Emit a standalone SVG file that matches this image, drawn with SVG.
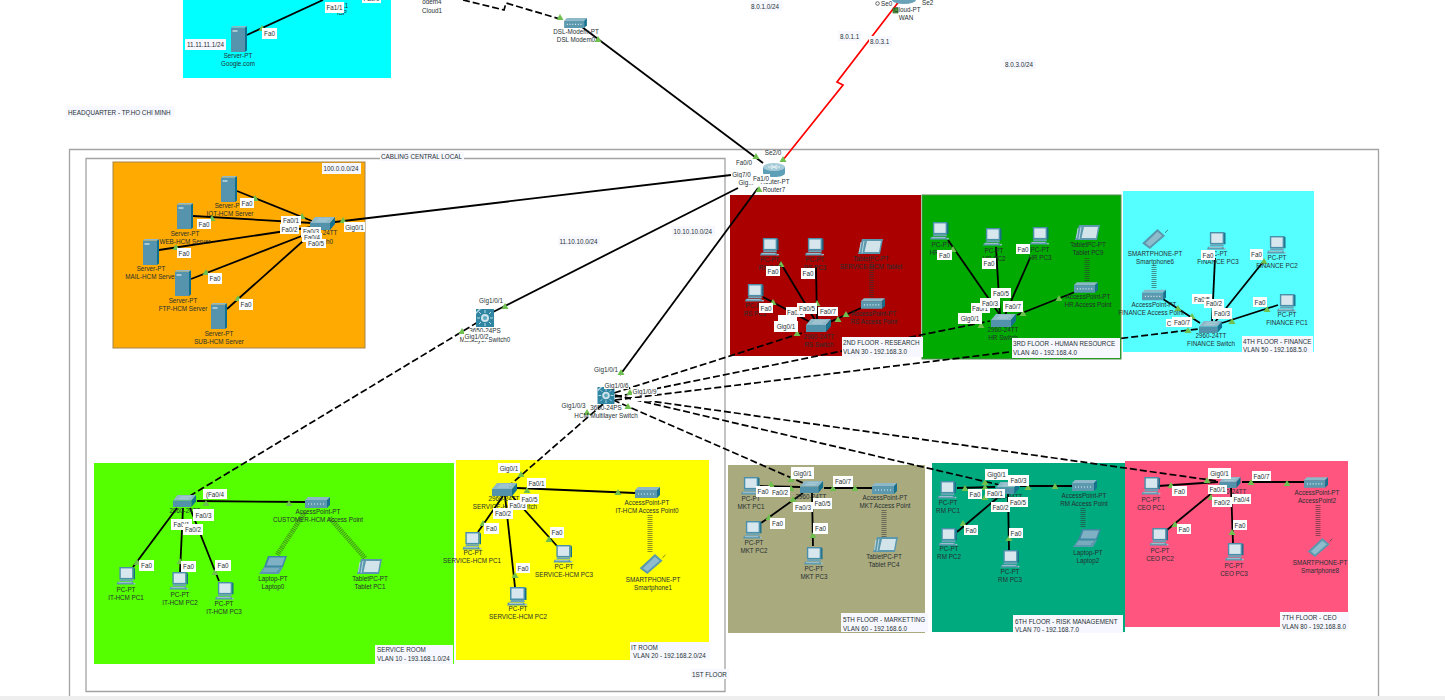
<svg xmlns="http://www.w3.org/2000/svg" width="1445" height="700" viewBox="0 0 1445 700">
<style>
text{font-family:"Liberation Sans",Arial,sans-serif;font-size:6.3px;fill:#263032}
.m{text-anchor:middle}
.p rect{fill:#fff}
.n rect{fill:#f7f8ff}
.p text{text-anchor:middle}
.c{fill:none;stroke:#000;stroke-width:1.8}
.d{fill:none;stroke:#000;stroke-width:1.7;stroke-dasharray:7 3}
.r{fill:none;stroke:#f00;stroke-width:1.7}
.w{fill:none;stroke:#333;stroke-width:5;stroke-dasharray:1 1;opacity:.55}
.b{fill:none;stroke:#a3a3a3;stroke-width:1.3}
.t{fill:#6fc04e}
</style>
<defs>
<symbol id="server" viewBox="0 0 16 26"><path d="M0 1.500H14V26H0Z" fill="#5594ac"/><path d="M14 1.500L16 0V24.500L14 26Z" fill="#0f6f8e"/><path d="M0 1.500L2 0H16L14 1.500Z" fill="#93bac8"/><rect x="1.500" y="4" width="5" height="2" fill="#a9c8d4"/></symbol>
<symbol id="pc" viewBox="0 0 20 19"><rect x="3" y="0" width="15" height="13" fill="#4a90aa"/><path d="M18 0L19.500 1.500V13H18Z" fill="#1a6f8d"/><rect x="4.500" y="1.500" width="12" height="10" fill="#d8e7ed"/><path d="M4 13H17L18 15H3Z" fill="#6ba4b8"/><path d="M1 15.500H17L19 18.500H0Z" fill="#5b98ae"/><path d="M2 16.500H16" stroke="#d8e7ed" stroke-width=".6"/><circle cx="19" cy="17.500" r="1" fill="#9cc0cd"/></symbol>
<symbol id="switch" viewBox="0 0 25 13"><path d="M5 0H25L20 6H0Z" fill="#8cb8c7"/><path d="M0 6H20V13H0Z" fill="#5292ab"/><path d="M20 6L25 0V7L20 13Z" fill="#17708e"/><path d="M8 2H20M6 4H17" stroke="#c9dee5" stroke-width=".6"/></symbol>
<symbol id="ap" viewBox="0 0 25 11"><path d="M3 0H25L22 3H0Z" fill="#8cb8c7"/><path d="M0 3H22V11H0Z" fill="#5c99af"/><path d="M22 3L25 0V8L22 11Z" fill="#17708e"/><path d="M3 7H20" stroke="#e6f0f4" stroke-width="1.200" stroke-dasharray="1 2"/></symbol>
<symbol id="router" viewBox="0 0 22 14"><path d="M0 4V10C0 12.500 5 14 11 14S22 12.500 22 10V4Z" fill="#5d9fb7"/><ellipse cx="11" cy="4" rx="11" ry="4" fill="#a6ccd9"/><path d="M5 4H10M12 4H17M8 2L14 6M14 2L8 6" stroke="#fff" stroke-width=".7"/></symbol>
<symbol id="l3" viewBox="0 0 18 18"><rect width="18" height="18" fill="#2f86a3"/><path d="M0 3L3 0H5L0 5Z" fill="#bcd8e2"/><circle cx="9" cy="9" r="4" fill="#cfe5ec"/><circle cx="9" cy="9" r="2" fill="#5da7c0"/><path d="M9 1V4M9 14V17M1 9H4M14 9H17M3 3L5 5M15 3L13 5M3 15L5 13M15 15L13 13" stroke="#e6f2f6" stroke-width=".8"/></symbol>
<symbol id="laptop" viewBox="0 0 28 18"><path d="M9 0H28L24 11H5Z" fill="#3d88a3"/><path d="M10.500 1.500H26L23 9.500H7.500Z" fill="#7fb0c3"/><path d="M5 11H24L20 18H0Z" fill="#5b98ae"/><path d="M5 13H20M3.500 15H18" stroke="#bcd6df" stroke-width=".6"/></symbol>
<symbol id="tablet" viewBox="0 0 25 15"><path d="M4 0H25L22 15H0Z" fill="#5b98ae"/><path d="M9 2H23L21 13H6.500Z" fill="#d2e4ea"/><path d="M3 3L1.500 13M6 2L4 14" stroke="#d2e4ea" stroke-width=".8"/></symbol>
<symbol id="phone" viewBox="0 0 28 22"><path d="M0 16L16 1L24 8L8 22Z" fill="#5b98ae"/><path d="M3.500 16L16 4L21 8L8 19.500Z" fill="#8ebccc"/><path d="M24 5L27 2" stroke="#2f3a3c" stroke-width=".7"/></symbol>
<path id="tri" class="t" d="M-3.500 3H3.500L0 -3Z"/>
</defs>

<rect width="1445" height="700" fill="#fff"/>
<rect x="0" y="696" width="1445" height="4" fill="#eeeeee"/>

<g id="zones">
<rect x="183" y="-2" width="208" height="80" fill="#00ffff"/>
<rect x="113" y="162" width="252" height="186" fill="#ffaa00" stroke="#a5844a"/>
<rect x="730" y="195" width="191" height="161" fill="#aa0000"/>
<rect x="922" y="195" width="199" height="164" fill="#00aa00" stroke="#4f8a4f"/>
<rect x="1123" y="191" width="191" height="161" fill="#55ffff"/>
<rect x="94" y="463" width="360" height="201" fill="#55ff00"/>
<rect x="456" y="460" width="253" height="200" fill="#ffff00"/>
<rect x="728" y="465" width="197" height="168" fill="#aaaa7f"/>
<rect x="932" y="463" width="193" height="169" fill="#00aa7f"/>
<rect x="1125" y="461" width="223" height="166" fill="#ff557f"/>
<path class="b" d="M69.500 696V149.500H1378.500V696"/>
<path class="b" d="M86 691.500V158.500H725V691.500Z"/>
</g>

<g id="connectors">
<path class="d" d="M463 0L504 10L506 3L560 19"/>
<path class="c" d="M582 27L763 163"/>
<path class="r" d="M783 160L843 85L837 82L900 0"/>
<path class="c" d="M335 222L731 175"/>
<path class="c" d="M493 312L738 188"/>
<path class="c" d="M620 375L758 188"/>
<path class="d" d="M478 322L188 497"/>
<path class="d" d="M603 404L510 485"/>
<path class="d" d="M614 393L805 332"/>
<path class="d" d="M615 397L990 321"/>
<path class="d" d="M615 400L1198 329"/>
<path class="d" d="M613 400L803 483"/>
<path class="d" d="M615 395L1000 485"/>
<path class="d" d="M615 396L1217 481"/>
<path class="c" d="M247 35L323 0"/>
<path class="c" d="M237 191L312 221"/>
<path class="c" d="M193 216L312 223"/>
<path class="c" d="M159 250L312 227"/>
<path class="c" d="M191 279L312 232"/>
<path class="c" d="M227 309L312 233"/>
<path class="c" d="M780 262L815 320"/>
<path class="c" d="M816 267L817 320"/>
<path class="c" d="M763 297L810 322"/>
<path class="c" d="M861 308L830 322"/>
<path class="w" d="M871.500 262V298"/>
<path class="c" d="M948 240L1000 315"/>
<path class="c" d="M996 247L1000 315"/>
<path class="c" d="M1030 258L1005 315"/>
<path class="c" d="M1075 292L1017 315"/>
<path class="w" d="M1087 258V282"/>
<path class="c" d="M1163 299L1200 323"/>
<path class="c" d="M1215 258L1212 322"/>
<path class="c" d="M1263 262L1215 322"/>
<path class="c" d="M1278 305L1222 323"/>
<path class="w" d="M1154 265V289"/>
<path class="c" d="M133 567L177 508"/>
<path class="c" d="M180 572L183 508"/>
<path class="c" d="M219 581L190 508"/>
<path class="c" d="M197 501L305 502"/>
<path class="w" d="M305 512L277 555"/>
<path class="w" d="M330 518L365 558"/>
<path class="c" d="M478 532L503 496"/>
<path class="c" d="M515 587L505 496"/>
<path class="c" d="M557 546L512 496"/>
<path class="c" d="M517 488L635 493"/>
<path class="w" d="M650 515V553"/>
<path class="c" d="M760 486L800 487"/>
<path class="c" d="M761 523L803 493"/>
<path class="c" d="M813 546L812 493"/>
<path class="c" d="M824 488H872"/>
<path class="w" d="M884 510V537"/>
<path class="c" d="M957 488L995 487"/>
<path class="c" d="M957 532L1002 494"/>
<path class="c" d="M1009 550L1008 494"/>
<path class="c" d="M1020 486H1072"/>
<path class="w" d="M1083 508V528"/>
<path class="c" d="M1158 486L1218 482"/>
<path class="c" d="M1167 530L1218 488"/>
<path class="c" d="M1233 543L1231 488"/>
<path class="c" d="M1242 482L1304 482"/>
<path class="w" d="M1318 505V537"/>
</g>

<g id="link-lights">
<use href="#tri" x="262" y="28"/><use href="#tri" x="560" y="17"/><use href="#tri" x="598" y="39"/><use href="#tri" x="756" y="156"/><use href="#tri" x="783" y="159"/><rect x="893" y="8" width="5" height="5" fill="#4c9a3a" stroke="#1d5c1d" stroke-width=".6"/>
<use href="#tri" x="255" y="198"/><use href="#tri" x="302" y="216"/><use href="#tri" x="212" y="218"/><use href="#tri" x="176" y="247"/><use href="#tri" x="206" y="272"/><use href="#tri" x="238" y="298"/><use href="#tri" x="343" y="220"/>
<use href="#tri" x="505" y="306"/><use href="#tri" x="462" y="331"/><use href="#tri" x="621" y="372"/><use href="#tri" x="759" y="189"/><use href="#tri" x="587" y="412"/><use href="#tri" x="628" y="406"/><use href="#tri" x="630" y="392"/>
<use href="#tri" x="781" y="264"/><use href="#tri" x="817" y="303"/><use href="#tri" x="773" y="302"/><use href="#tri" x="846" y="314"/><use href="#tri" x="838" y="319"/><use href="#tri" x="797" y="333"/>
<use href="#tri" x="953" y="249"/><use href="#tri" x="1059" y="298"/><use href="#tri" x="1023" y="313"/><use href="#tri" x="981" y="325"/>
<use href="#tri" x="1178" y="308"/><use href="#tri" x="1192" y="316"/><use href="#tri" x="1267" y="309"/><use href="#tri" x="1232" y="321"/><use href="#tri" x="1188" y="330"/><use href="#tri" x="1264" y="261"/>
<use href="#tri" x="206" y="503"/><use href="#tri" x="289" y="503"/><use href="#tri" x="137" y="562"/><use href="#tri" x="180" y="561"/><use href="#tri" x="215" y="572"/>
<use href="#tri" x="527" y="490"/><use href="#tri" x="618" y="492"/><use href="#tri" x="483" y="523"/><use href="#tri" x="515" y="575"/><use href="#tri" x="549" y="539"/><use href="#tri" x="521" y="474"/>
<use href="#tri" x="771" y="484"/><use href="#tri" x="791" y="488"/><use href="#tri" x="833" y="488"/><use href="#tri" x="855" y="488"/><use href="#tri" x="793" y="499"/><use href="#tri" x="769" y="517"/><use href="#tri" x="813" y="535"/><use href="#tri" x="791" y="479"/>
<use href="#tri" x="965" y="488"/><use href="#tri" x="985" y="487"/><use href="#tri" x="985" y="482"/><use href="#tri" x="1028" y="487"/><use href="#tri" x="1055" y="486"/><use href="#tri" x="963" y="523"/><use href="#tri" x="985" y="497"/><use href="#tri" x="1009" y="538"/>
<use href="#tri" x="1171" y="485"/><use href="#tri" x="1207" y="480"/><use href="#tri" x="1211" y="497"/><use href="#tri" x="1175" y="524"/><use href="#tri" x="1232" y="532"/><use href="#tri" x="1251" y="482"/><use href="#tri" x="1287" y="483"/>
</g>

<g id="google"><use href="#server" x="231" y="26" width="16" height="26"/><text class="m" x="238" y="58">Server-PT</text><text class="m" x="238" y="66">Google.com</text></g>
<g id="isp"><text class="m" x="345" y="8">11</text><text class="m" x="342" y="15">ISP</text></g>
<g id="cloud1"><text class="m" x="432" y="4">odem4</text><text class="m" x="432" y="13">Cloud1</text></g>
<g id="dsl-modem"><use href="#ap" x="563" y="18" width="25" height="10"/><text class="m" x="576" y="34">DSL-Modem-PT</text><text class="m" x="576" y="42">DSL Modem0</text></g>
<g id="wan"><ellipse cx="904" cy="0" rx="12" ry="4" fill="#6aa3b8"/><circle cx="877.500" cy="3.500" r="1.800" fill="#fff" stroke="#333" stroke-width=".7"/><text x="894" y="12">Cloud-PT</text><text class="m" x="906" y="20">WAN</text><text x="881" y="6">Se0</text><text x="922" y="5">Se2</text></g>
<g id="router7"><use href="#router" x="763" y="163" width="22" height="14"/><text class="m" x="775" y="184">Router-PT</text><text class="m" x="774" y="192">Router7</text></g>

<g id="iot-server"><use href="#server" x="221" y="176" width="16" height="26"/><text class="m" x="229" y="208">Server-PT</text><text class="m" x="230" y="216">IOT-HCM Server</text></g>
<g id="web-server"><use href="#server" x="177" y="203" width="16" height="26"/><text class="m" x="185" y="236">Server-PT</text><text class="m" x="185" y="244">WEB-HCM Server</text></g>
<g id="mail-server"><use href="#server" x="143" y="239" width="16" height="26"/><text class="m" x="151" y="271">Server-PT</text><text class="m" x="151" y="279">MAIL-HCM Server</text></g>
<g id="ftp-server"><use href="#server" x="175" y="270" width="16" height="26"/><text class="m" x="183" y="303">Server-PT</text><text class="m" x="183" y="311">FTP-HCM Server</text></g>
<g id="sub-server"><use href="#server" x="211" y="303" width="16" height="26"/><text class="m" x="219" y="336">Server-PT</text><text class="m" x="219" y="344">SUB-HCM Server</text></g>
<g id="switch0"><use href="#switch" x="310" y="217" width="25" height="13"/><text class="m" x="322" y="235">2960-24TT</text><text class="m" x="322" y="244">Switch0</text></g>
<g id="ml-switch0"><use href="#l3" x="476" y="309" width="18" height="18"/><text class="m" x="485" y="333">3650-24PS</text><text class="m" x="485" y="342">Multilayer Switch0</text></g>
<g id="hcm-ml-switch"><use href="#l3" x="597" y="387" width="18" height="17"/><text class="m" x="606" y="410">3650-24PS</text><text class="m" x="606" y="418">HCM Multilayer Switch</text></g>

<g id="rs-pc2"><use href="#pc" x="760" y="238" width="19" height="18"/><text class="m" x="770" y="262">PC-PT</text><text class="m" x="770" y="270">RS PC2</text></g>
<g id="rs-pc3"><use href="#pc" x="805" y="238" width="19" height="18"/><text class="m" x="815" y="262">PC-PT</text><text class="m" x="815" y="270">RS PC3</text></g>
<g id="rs-pc1"><use href="#pc" x="745" y="284" width="19" height="18"/><text class="m" x="755" y="308">PC-PT</text><text class="m" x="755" y="316">RS PC1</text></g>
<g id="rs-tablet"><use href="#tablet" x="858" y="239" width="25" height="15"/><text class="m" x="871" y="261">TabletPC-PT</text><text class="m" x="871" y="269">SERVICE-HCM Tablet</text></g>
<g id="rs-ap"><use href="#ap" x="861" y="298" width="24" height="11"/><text class="m" x="874" y="316">AccessPoint-PT</text><text class="m" x="874" y="324">RS Access Point</text></g>
<g id="rs-switch"><use href="#switch" x="806" y="319" width="25" height="13"/><text class="m" x="819" y="339">2960-24TT</text><text class="m" x="819" y="347">RS Switch</text></g>

<g id="hr-pc1"><use href="#pc" x="930" y="222" width="19" height="18"/><text class="m" x="941" y="247">PC-PT</text><text class="m" x="941" y="255">HR PC1</text></g>
<g id="hr-pc2"><use href="#pc" x="983" y="228" width="19" height="18"/><text class="m" x="994" y="253">PC-PT</text><text class="m" x="994" y="261">HR PC2</text></g>
<g id="hr-pc3"><use href="#pc" x="1030" y="227" width="19" height="18"/><text class="m" x="1040" y="252">PC-PT</text><text class="m" x="1040" y="260">HR PC3</text></g>
<g id="hr-tablet"><use href="#tablet" x="1075" y="225" width="25" height="15"/><text class="m" x="1088" y="247">TabletPC-PT</text><text class="m" x="1088" y="255">Tablet PC9</text></g>
<g id="hr-ap"><use href="#ap" x="1074" y="282" width="24" height="11"/><text class="m" x="1088" y="299">AccessPoint-PT</text><text class="m" x="1088" y="307">HR Access Point</text></g>
<g id="hr-switch"><use href="#switch" x="991" y="314" width="25" height="13"/><text class="m" x="1003" y="332">2960-24TT</text><text class="m" x="1003" y="340">HR Switch</text></g>

<g id="fin-phone"><use href="#phone" x="1142" y="228" width="27" height="21"/><text class="m" x="1155" y="256">SMARTPHONE-PT</text><text class="m" x="1155" y="264">Smartphone6</text></g>
<g id="fin-ap"><use href="#ap" x="1142" y="289" width="24" height="12"/><text class="m" x="1154" y="307">AccessPoint-PT</text><text class="m" x="1151" y="315">FINANCE Access Point</text></g>
<g id="fin-pc3"><use href="#pc" x="1207" y="232" width="19" height="18"/><text class="m" x="1218" y="256">PC-PT</text><text class="m" x="1218" y="264">FINANCE PC3</text></g>
<g id="fin-pc2"><use href="#pc" x="1267" y="236" width="19" height="18"/><text class="m" x="1277" y="260">PC-PT</text><text class="m" x="1277" y="268">FINANCE PC2</text></g>
<g id="fin-pc1"><use href="#pc" x="1277" y="294" width="19" height="18"/><text class="m" x="1287" y="317">PC-PT</text><text class="m" x="1287" y="325">FINANCE PC1</text></g>
<g id="fin-switch"><use href="#switch" x="1198" y="321" width="25" height="12"/><text class="m" x="1211" y="338">2960-24TT</text><text class="m" x="1211" y="346">FINANCE Switch</text></g>

<g id="it-switch"><use href="#switch" x="172" y="495" width="25" height="12"/><text class="m" x="185" y="513">2960-24TT</text></g>
<g id="it-pc1"><use href="#pc" x="116" y="567" width="20" height="18"/><text class="m" x="126" y="592">PC-PT</text><text class="m" x="126" y="600">IT-HCM PC1</text></g>
<g id="it-pc2"><use href="#pc" x="169" y="572" width="20" height="18"/><text class="m" x="180" y="597">PC-PT</text><text class="m" x="180" y="605">IT-HCM PC2</text></g>
<g id="it-pc3"><use href="#pc" x="215" y="582" width="19" height="18"/><text class="m" x="224" y="606">PC-PT</text><text class="m" x="224" y="614">IT-HCM PC3</text></g>
<g id="laptop0"><use href="#laptop" x="259" y="556" width="28" height="18"/><text class="m" x="273" y="581">Laptop-PT</text><text class="m" x="273" y="589">Laptop0</text></g>
<g id="tablet1"><use href="#tablet" x="357" y="559" width="25" height="15"/><text class="m" x="370" y="581">TabletPC-PT</text><text class="m" x="370" y="589">Tablet PC1</text></g>
<g id="cust-ap"><use href="#ap" x="305" y="497" width="25" height="11"/><text class="m" x="318" y="514">AccessPoint-PT</text><text class="m" x="318" y="522">CUSTOMER-HCM Access Point</text></g>

<g id="svc-switch"><use href="#switch" x="492" y="483" width="25" height="13"/><text class="m" x="504" y="501">2960-24TT</text><text class="m" x="505" y="509">SERVICE-HCM Switch</text></g>
<g id="svc-pc1"><use href="#pc" x="462" y="532" width="20" height="18"/><text class="m" x="473" y="555">PC-PT</text><text class="m" x="472" y="563">SERVICE-HCM PC1</text></g>
<g id="svc-pc2"><use href="#pc" x="507" y="587" width="20" height="19"/><text class="m" x="518" y="611">PC-PT</text><text class="m" x="518" y="619">SERVICE-HCM PC2</text></g>
<g id="svc-pc3"><use href="#pc" x="553" y="545" width="20" height="18"/><text class="m" x="564" y="569">PC-PT</text><text class="m" x="564" y="577">SERVICE-HCM PC3</text></g>
<g id="it-ap"><use href="#ap" x="635" y="487" width="25" height="11"/><text class="m" x="647" y="505">AccessPoint-PT</text><text class="m" x="647" y="513">IT-HCM Access Point0</text></g>
<g id="phone1"><use href="#phone" x="639" y="553" width="28" height="21"/><text class="m" x="653" y="582">SMARTPHONE-PT</text><text class="m" x="653" y="590">Smartphone1</text></g>

<g id="mkt-switch"><use href="#switch" x="799" y="481" width="25" height="12"/><text class="m" x="811" y="499">2960-24TT</text></g>
<g id="mkt-pc1"><use href="#pc" x="741" y="477" width="19" height="18"/><text class="m" x="751" y="501">PC-PT</text><text class="m" x="751" y="509">MKT PC1</text></g>
<g id="mkt-pc2"><use href="#pc" x="743" y="521" width="19" height="18"/><text class="m" x="754" y="545">PC-PT</text><text class="m" x="754" y="553">MKT PC2</text></g>
<g id="mkt-pc3"><use href="#pc" x="804" y="547" width="19" height="18"/><text class="m" x="814" y="571">PC-PT</text><text class="m" x="814" y="579">MKT PC3</text></g>
<g id="mkt-ap"><use href="#ap" x="872" y="483" width="25" height="11"/><text class="m" x="885" y="500">AccessPoint-PT</text><text class="m" x="885" y="508">MKT Access Point</text></g>
<g id="tablet4"><use href="#tablet" x="873" y="537" width="25" height="15"/><text class="m" x="884" y="559">TabletPC-PT</text><text class="m" x="884" y="567">Tablet PC4</text></g>

<g id="rm-switch"><use href="#switch" x="995" y="482" width="25" height="12"/><text class="m" x="1007" y="499">2960-24TT</text></g>
<g id="rm-pc1"><use href="#pc" x="937" y="481" width="20" height="18"/><text class="m" x="948" y="505">PC-PT</text><text class="m" x="948" y="513">RM PC1</text></g>
<g id="rm-pc2"><use href="#pc" x="938" y="528" width="20" height="18"/><text class="m" x="949" y="551">PC-PT</text><text class="m" x="949" y="559">RM PC2</text></g>
<g id="rm-pc3"><use href="#pc" x="1000" y="550" width="20" height="18"/><text class="m" x="1010" y="574">PC-PT</text><text class="m" x="1010" y="582">RM PC3</text></g>
<g id="rm-ap"><use href="#ap" x="1072" y="480" width="25" height="11"/><text class="m" x="1084" y="498">AccessPoint-PT</text><text class="m" x="1084" y="506">RM Access Point</text></g>
<g id="laptop2"><use href="#laptop" x="1073" y="528" width="28" height="20"/><text class="m" x="1088" y="555">Laptop-PT</text><text class="m" x="1088" y="563">Laptop2</text></g>

<g id="ceo-switch"><use href="#switch" x="1218" y="477" width="24" height="11"/><text class="m" x="1231" y="494">2960-24TT</text></g>
<g id="ceo-pc1"><use href="#pc" x="1141" y="477" width="20" height="18"/><text class="m" x="1151" y="502">PC-PT</text><text class="m" x="1151" y="510">CEO PC1</text></g>
<g id="ceo-pc2"><use href="#pc" x="1149" y="528" width="20" height="18"/><text class="m" x="1160" y="553">PC-PT</text><text class="m" x="1160" y="561">CEO PC2</text></g>
<g id="ceo-pc3"><use href="#pc" x="1225" y="543" width="19" height="18"/><text class="m" x="1234" y="568">PC-PT</text><text class="m" x="1234" y="576">CEO PC3</text></g>
<g id="ceo-ap"><use href="#ap" x="1304" y="477" width="24" height="11"/><text class="m" x="1317" y="495">AccessPoint-PT</text><text class="m" x="1317" y="503">AccessPoint2</text></g>
<g id="phone8"><use href="#phone" x="1307" y="537" width="27" height="20"/><text class="m" x="1320" y="565">SMARTPHONE-PT</text><text class="m" x="1320" y="573">Smartphone8</text></g>

<g id="port-labels">
<g class="p"><rect x="262" y="28" width="15" height="11"/><text x="269.500" y="36">Fa0</text></g>
<g class="p"><rect x="325" y="2" width="19" height="11"/><text x="334.500" y="10">Fa1/1</text></g>
<g class="p"><rect x="362" y="-6" width="19" height="9"/><text x="371.500" y="1">Fa0/0</text></g>
<g class="p"><rect x="240" y="198" width="14" height="10"/><text x="247" y="205.500">Fa0</text></g>
<g class="p"><rect x="197" y="219" width="14" height="10"/><text x="204" y="226.500">Fa0</text></g>
<g class="p"><rect x="177" y="248" width="14" height="10"/><text x="184" y="255.500">Fa0</text></g>
<g class="p"><rect x="208" y="273" width="14" height="11"/><text x="215" y="281">Fa0</text></g>
<g class="p"><rect x="239" y="299" width="14" height="11"/><text x="246" y="307">Fa0</text></g>
<g class="p"><rect x="281" y="216" width="20" height="9"/><text x="291" y="223">Fa0/1</text></g>
<g class="p"><rect x="280" y="224" width="19" height="10"/><text x="289.500" y="231.500">Fa0/2</text></g>
<g class="p"><rect x="301" y="227" width="20" height="10"/><text x="311" y="234">Fa0/3</text></g>
<g class="p"><rect x="302" y="233" width="20" height="9"/><text x="312" y="240">Fa0/4</text></g>
<g class="p"><rect x="306" y="239" width="20" height="9"/><text x="316" y="246">Fa0/5</text></g>
<g class="p"><rect x="344" y="222" width="21" height="10"/><text x="354.500" y="229.500">Gig0/1</text></g>
<g class="p"><text x="491" y="303">Gig1/0/1</text></g>
<g class="p"><rect x="464" y="332" width="25" height="9"/><text x="476.500" y="339">Gig1/0/2</text></g>
<g class="p"><text x="773" y="155">Se2/0</text></g>
<g class="p"><text x="744" y="164.500">Fa0/0</text></g>
<g class="p"><rect x="731" y="170" width="21" height="9"/><text x="741.500" y="177">Gig7/0</text></g>
<g class="p"><rect x="739" y="178" width="14" height="8"/><text x="746" y="184.500">Gig...</text></g>
<g class="p"><rect x="752" y="174" width="18" height="9"/><text x="761" y="181">Fa1/0</text></g>
<g class="p"><rect x="594" y="365" width="24" height="8"/><text x="606" y="371.500">Gig1/0/1</text></g>
<g class="p"><rect x="604" y="381" width="25" height="8"/><text x="616.500" y="387.500">Gig1/0/6</text></g>
<g class="p"><rect x="632" y="387" width="25" height="8"/><text x="644.500" y="393.500">Gig1/0/9</text></g>
<g class="p"><rect x="631" y="398" width="26" height="3"/></g>
<g class="p"><text x="573.500" y="408">Gig1/0/3</text></g>

<g class="p"><rect x="766" y="266" width="14" height="10"/><text x="773" y="273.500">Fa0</text></g>
<g class="p"><rect x="801" y="268" width="14" height="11"/><text x="808" y="276">Fa0</text></g>
<g class="p"><rect x="759" y="303" width="14" height="10"/><text x="766" y="310.500">Fa0</text></g>
<g class="p"><rect x="778" y="315" width="19" height="7"/></g>
<g class="p"><rect x="786" y="307" width="19" height="10"/><text x="795" y="314.500">Fa0/3</text></g>
<g class="p"><rect x="797" y="303" width="20" height="11"/><text x="807" y="311">Fa0/5</text></g>
<g class="p"><rect x="818" y="307" width="20" height="9"/><text x="828" y="314">Fa0/7</text></g>
<g class="p"><rect x="774" y="321" width="24" height="11"/><text x="786" y="329">Gig0/1</text></g>

<g class="p"><rect x="937" y="250" width="15" height="10"/><text x="944.500" y="257.500">Fa0</text></g>
<g class="p"><rect x="982" y="258" width="14" height="11"/><text x="989" y="266">Fa0</text></g>
<g class="p"><rect x="1016" y="244" width="14" height="10"/><text x="1023" y="251.500">Fa0</text></g>
<g class="p"><rect x="971" y="303" width="19" height="10"/><text x="980" y="310.500">Fa0/1</text></g>
<g class="p"><rect x="980" y="298" width="20" height="10"/><text x="990" y="305.500">Fa0/3</text></g>
<g class="p"><rect x="991" y="288" width="20" height="10"/><text x="1001" y="295.500">Fa0/5</text></g>
<g class="p"><rect x="1003" y="301" width="20" height="11"/><text x="1013" y="309">Fa0/7</text></g>
<g class="p"><rect x="958" y="313" width="24" height="11"/><text x="970" y="321">Gig0/1</text></g>

<g class="p"><rect x="1201" y="250" width="14" height="10"/><text x="1208" y="257.500">Fa0</text></g>
<g class="p"><rect x="1250" y="249" width="13" height="11"/><text x="1256.500" y="257">Fa0</text></g>
<g class="p"><rect x="1253" y="297" width="14" height="10"/><text x="1260" y="304.500">Fa0</text></g>
<g class="p"><rect x="1192" y="294" width="20" height="10"/><text x="1202" y="301.500">Fa0/5</text></g>
<g class="p"><rect x="1204" y="299" width="20" height="9"/><text x="1214" y="306">Fa0/2</text></g>
<g class="p"><rect x="1212" y="308" width="20" height="11"/><text x="1222" y="316">Fa0/3</text></g>
<g class="p"><rect x="1166" y="319" width="14" height="8"/><text x="1169" y="326">C</text></g>
<g class="p"><rect x="1172" y="317" width="20" height="10"/><text x="1182" y="324.500">Fa0/7</text></g>

<g class="p"><rect x="203" y="489" width="24" height="10"/><text x="215" y="496.500">(Fa0/4</text></g>
<g class="p"><rect x="193" y="509" width="21" height="12"/><text x="203.500" y="517.500">Fa0/3</text></g>
<g class="p"><rect x="171" y="519" width="21" height="11"/><text x="181.500" y="527">Fa0/1</text></g>
<g class="p"><rect x="183" y="524" width="20" height="11"/><text x="193" y="532">Fa0/2</text></g>
<g class="p"><rect x="139" y="560" width="15" height="11"/><text x="146.500" y="568">Fa0</text></g>
<g class="p"><rect x="181" y="561" width="15" height="11"/><text x="188.500" y="569">Fa0</text></g>
<g class="p"><rect x="215" y="560" width="16" height="11"/><text x="223" y="568">Fa0</text></g>

<g class="p"><rect x="498" y="463" width="22" height="10"/><text x="509" y="470.500">Gig0/1</text></g>
<g class="p"><rect x="527" y="478" width="19" height="10"/><text x="536.500" y="485.500">Fa0/1</text></g>
<g class="p"><rect x="508" y="500" width="19" height="10"/><text x="517.500" y="507.500">Fa0/3</text></g>
<g class="p"><rect x="520" y="494" width="19" height="10"/><text x="529.500" y="501.500">Fa0/5</text></g>
<g class="p"><rect x="493" y="508" width="20" height="11"/><text x="503" y="516">Fa0/2</text></g>
<g class="p"><rect x="484" y="523" width="15" height="11"/><text x="491.500" y="531">Fa0</text></g>
<g class="p"><rect x="516" y="563" width="14" height="10"/><text x="523" y="570.500">Fa0</text></g>
<g class="p"><rect x="550" y="527" width="14" height="11"/><text x="557" y="535">Fa0</text></g>

<g class="p"><rect x="791" y="467" width="23" height="12"/><text x="802.500" y="475.500">Gig0/1</text></g>
<g class="p"><rect x="756" y="486" width="14" height="11"/><text x="763" y="494">Fa0</text></g>
<g class="p"><rect x="770" y="487" width="20" height="10"/><text x="780" y="494.500">Fa0/2</text></g>
<g class="p"><rect x="833" y="476" width="20" height="11"/><text x="843" y="484">Fa0/7</text></g>
<g class="p"><rect x="793" y="502" width="20" height="10"/><text x="803" y="509.500">Fa0/3</text></g>
<g class="p"><rect x="813" y="498" width="19" height="11"/><text x="822.500" y="506">Fa0/5</text></g>
<g class="p"><rect x="770" y="518" width="15" height="11"/><text x="777.500" y="526">Fa0</text></g>
<g class="p"><rect x="813" y="523" width="15" height="11"/><text x="820.500" y="531">Fa0</text></g>

<g class="p"><rect x="985" y="469" width="23" height="11"/><text x="996.500" y="477">Gig0/1</text></g>
<g class="p"><rect x="1008" y="475" width="21" height="11"/><text x="1018.500" y="483">Fa0/3</text></g>
<g class="p"><rect x="968" y="489" width="14" height="10"/><text x="975" y="496.500">Fa0</text></g>
<g class="p"><rect x="985" y="489" width="20" height="9"/><text x="995" y="496">Fa0/1</text></g>
<g class="p"><rect x="1008" y="497" width="20" height="10"/><text x="1018" y="504.500">Fa0/5</text></g>
<g class="p"><rect x="991" y="502" width="19" height="10"/><text x="1000.500" y="509.500">Fa0/2</text></g>
<g class="p"><rect x="964" y="525" width="14" height="10"/><text x="971" y="532.500">Fa0</text></g>
<g class="p"><rect x="1009" y="528" width="14" height="10"/><text x="1016" y="535.500">Fa0</text></g>

<g class="p"><rect x="1208" y="468" width="23" height="11"/><text x="1219.500" y="476">Gig0/1</text></g>
<g class="p"><rect x="1208" y="485" width="19" height="9"/><text x="1217.500" y="492">Fa0/1</text></g>
<g class="p"><rect x="1212" y="497" width="20" height="10"/><text x="1222" y="504.500">Fa0/2</text></g>
<g class="p"><rect x="1232" y="494" width="19" height="10"/><text x="1241.500" y="501.500">Fa0/4</text></g>
<g class="p"><rect x="1252" y="471" width="19" height="10"/><text x="1261.500" y="478.500">Fa0/7</text></g>
<g class="p"><rect x="1172" y="486" width="15" height="10"/><text x="1179.500" y="493.500">Fa0</text></g>
<g class="p"><rect x="1177" y="524" width="14" height="10"/><text x="1184" y="531.500">Fa0</text></g>
<g class="p"><rect x="1233" y="520" width="14" height="10"/><text x="1240" y="527.500">Fa0</text></g>
</g>

<g id="notes">
<g class="n"><rect x="185" y="39" width="41" height="11"/><text x="187" y="47">11.11.11.1/24</text></g>
<g class="n"><rect x="322" y="163" width="39" height="11"/><text x="323.500" y="171">100.0.0.0/24</text></g>
<g class="n"><rect x="66" y="106" width="108" height="11"/><text x="68" y="115">HEADQUARTER - TP.HO CHI MINH</text></g>
<g class="n"><rect x="380" y="152" width="84" height="9"/><text x="381" y="159">CABLING CENTRAL LOCAL</text></g>
<g class="n"><rect x="691" y="669" width="38" height="10"/><text x="692" y="677">1ST FLOOR</text></g>
<g class="n"><rect x="750" y="1" width="32" height="10"/><text x="751" y="8.500">8.0.1.0/24</text></g>
<g class="n"><rect x="838" y="31" width="23" height="10"/><text x="840" y="39">8.0.1.1</text></g>
<g class="n"><rect x="869" y="36" width="23" height="10"/><text x="870" y="44">8.0.3.1</text></g>
<g class="n"><rect x="1003" y="59" width="33" height="10"/><text x="1005" y="67">8.0.3.0/24</text></g>
<g class="n"><rect x="558" y="236" width="42" height="10"/><text x="559.500" y="244">11.10.10.0/24</text></g>
<g class="n"><rect x="672" y="226" width="43" height="10"/><text x="673.500" y="234">10.10.10.0/24</text></g>
<g class="n"><rect x="842" y="337" width="81" height="20"/><text x="843" y="345">2ND FLOOR - RESEARCH</text><text x="843" y="353.500">VLAN 30 - 192.168.3.0</text></g>
<g class="n"><rect x="1012" y="338" width="108" height="20"/><text x="1013" y="346">3RD FLOOR - HUMAN RESOURCE</text><text x="1013" y="355">VLAN 40 - 192.168.4.0</text></g>
<g class="n"><rect x="1242" y="336" width="71" height="17"/><text x="1243" y="343.500">4TH FLOOR - FINANCE</text><text x="1243" y="351.500">VLAN 50 - 192.168.5.0</text></g>
<g class="n"><rect x="375" y="645" width="78" height="19"/><text x="377" y="652">SERVICE ROOM</text><text x="377" y="660.500">VLAN 10 - 193.168.1.0/24</text></g>
<g class="n"><rect x="630" y="642" width="80" height="18"/><text x="631" y="650">IT ROOM</text><text x="633" y="658">VLAN 20 - 192.168.2.0/24</text></g>
<g class="n"><rect x="841" y="613" width="87" height="19"/><text x="843" y="622">5TH FLOOR - MARKETTING</text><text x="843" y="630.500">VLAN 60 - 192.168.6.0</text></g>
<g class="n"><rect x="1013" y="615" width="110" height="18"/><text x="1015" y="624">6TH FLOOR - RISK MANAGEMENT</text><text x="1015" y="632">VLAN 70 - 192.168.7.0</text></g>
<g class="n"><rect x="1280" y="612" width="69" height="19"/><text x="1282" y="620">7TH FLOOR - CEO</text><text x="1282" y="628.500">VLAN 80 - 192.168.8.0</text></g>
</g>
</svg>
